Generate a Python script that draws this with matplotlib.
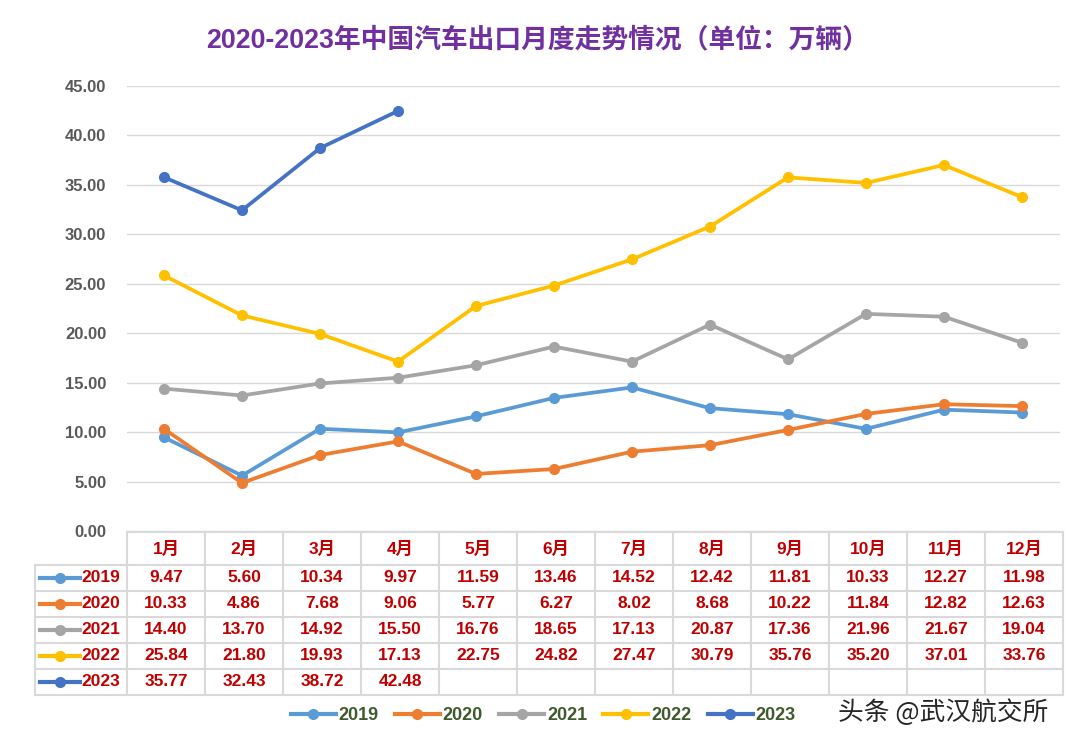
import numpy as np
import matplotlib
matplotlib.use("Agg")
import matplotlib.pyplot as plt
from matplotlib.lines import Line2D

plt.rcParams['font.family'] = ['Liberation Sans', 'Noto Sans CJK SC', 'DejaVu Sans']

months = ['1月', '2月', '3月', '4月', '5月', '6月', '7月', '8月', '9月', '10月', '11月', '12月']
years = ['2019', '2020', '2021', '2022', '2023']
v2019 = [9.47, 5.60, 10.34, 9.97, 11.59, 13.46, 14.52, 12.42, 11.81, 10.33, 12.27, 11.98]
v2020 = [10.33, 4.86, 7.68, 9.06, 5.77, 6.27, 8.02, 8.68, 10.22, 11.84, 12.82, 12.63]
v2021 = [14.40, 13.70, 14.92, 15.50, 16.76, 18.65, 17.13, 20.87, 17.36, 21.96, 21.67, 19.04]
v2022 = [25.84, 21.80, 19.93, 17.13, 22.75, 24.82, 27.47, 30.79, 35.76, 35.20, 37.01, 33.76]
v2023 = [35.77, 32.43, 38.72, 42.48]
series = [v2019, v2020, v2021, v2022, v2023]
colors = ['#5b9bd5', '#ed7d31', '#a5a5a5', '#ffc000', '#4472c4']

W, H = 1080, 746
fig = plt.figure(figsize=(W / 100, H / 100), dpi=100)

# main chart area (pixel-measured), first point at x=164, step 78 px
x0, x1 = 127, 1060
y0, y45 = 531, 86
ax = fig.add_axes([x0 / W, 1 - y0 / H, (x1 - x0) / W, (y0 - y45) / H])
ax.set_xlim(-37 / 78, -37 / 78 + (x1 - x0) / 78)
ax.set_ylim(0, 45)
ax.set_yticks(np.arange(0, 46, 5))
ax.set_yticklabels(['%.2f' % t for t in np.arange(0, 46, 5)])
ax.set_xticks([])
for s in ax.spines.values():
    s.set_visible(False)
ax.tick_params(axis='y', length=0, pad=15, labelsize=12, labelcolor='#595959')
for t in ax.get_yticklabels():
    t.set_fontweight('bold')
ax.grid(axis='y', color='#d9d9d9', linewidth=1)
ax.set_axisbelow(True)

for vals, c in zip(series, colors):
    ax.plot(range(len(vals)), vals, color=c, linewidth=2.7, marker='o', markersize=7, clip_on=False)

fig.text(538 / W, 1 - 40 / H, '2020-2023年中国汽车出口月度走势情况（单位：万辆）',
         ha='center', va='center', fontsize=19.3, fontweight='bold', color='#7030a0')

# data table under the chart
tl, tr, tt, tb = 35, 1063, 532, 695
tab = fig.add_axes([tl / W, 1 - tb / H, (tr - tl) / W, (tb - tt) / H])
left_u = -0.5 - (127 - tl) / 78
tab.set_xlim(left_u, 11.5)
tab.set_ylim(tb - tt, 0)
tab.axis('off')
grid_c = '#d9d9d9'
rows = [0, 33, 59, 85, 111, 137, 163]
tab.plot([-0.5, 11.5], [0, 0], color=grid_c, lw=1.5, clip_on=False)
for r in rows[1:]:
    tab.plot([left_u, 11.5], [r, r], color=grid_c, lw=1.5, clip_on=False)
tab.plot([left_u, left_u], [33, 163], color=grid_c, lw=1.5, clip_on=False)
for k in range(13):
    tab.plot([k - 0.5, k - 0.5], [0, 163], color=grid_c, lw=1.5, clip_on=False)

red = '#c00000'
for i, m in enumerate(months):
    tab.text(i, 16.5, m, ha='center', va='center', fontsize=12.5, fontweight='bold', color=red)
for j, (yr, vals, c) in enumerate(zip(years, series, colors)):
    yc = (rows[j + 1] + rows[j + 2]) / 2
    tab.plot([-1.615, -1.10], [yc, yc], color=c, lw=3, clip_on=False)
    tab.plot([-1.36], [yc], 'o', color=c, markersize=7, clip_on=False)
    tab.text(-1.085, yc, yr, ha='left', va='center', fontsize=12.5, fontweight='bold', color=red)
    for i, v in enumerate(vals):
        tab.text(i, yc, '%.2f' % v, ha='center', va='center', fontsize=12.5, fontweight='bold', color=red)

handles = [Line2D([0], [0], color=c, lw=3, marker='o', markersize=7) for c in colors]
leg = fig.legend(handles, years, loc='center', bbox_to_anchor=(543 / W, 1 - 716 / H), ncol=5,
                 frameon=False, handlelength=2.5, handletextpad=0.15, columnspacing=0.9,
                 prop={'size': 13, 'weight': 'bold'})
for t in leg.get_texts():
    t.set_color('#3f5a2c')

fig.text(943 / W, 1 - 713 / H, '头条 @武汉航交所', ha='center', va='center',
         fontsize=18.5, color='#262626', family=['Noto Sans CJK SC', 'DejaVu Sans'])

fig.savefig('out.png', dpi=100)
